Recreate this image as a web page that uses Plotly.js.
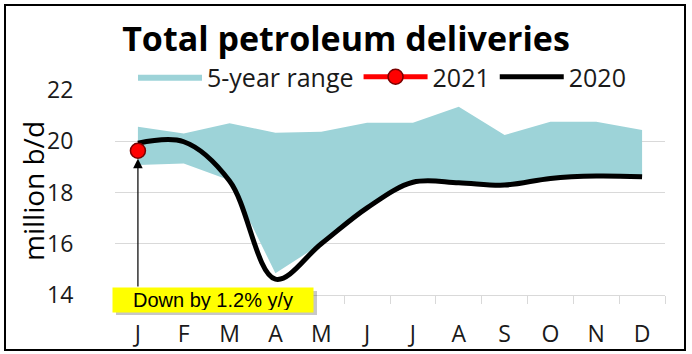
<!DOCTYPE html>
<html>
<head>
<meta charset="utf-8">
<script src="https://cdn.plot.ly/plotly-3.0.1.min.js"></script>
<style>
html,body{margin:0;padding:0;background:#fff;}
#chart{width:692px;height:354px;}
</style>
</head>
<body>
<div id="chart"></div>
<script>
// ---- data ----
const months = ['Jan','Feb','Mar','Apr','May','Jun','Jul','Aug','Sep','Oct','Nov','Dec'];
const monthLabels = ['J','F','M','A','M','J','J','A','S','O','N','D'];
const rangeHigh = [20.57, 20.30, 20.70, 20.33, 20.37, 20.72, 20.72, 21.35, 20.24, 20.76, 20.76, 20.44];
const rangeLow  = [19.07, 19.13, 18.48, 14.85, 16.00, 17.40, 18.40, 18.38, 18.29, 18.55, 18.64, 18.61];
const deliveries2020 = [19.92, 19.98, 18.45, 14.62, 16.00, 17.40, 18.40, 18.38, 18.29, 18.55, 18.64, 18.61];
const months2021 = ['Jan'];
const deliveries2021 = [19.63];
const yTicks = [14, 16, 18, 20, 22];

// month positions on the x axis (index of each category)
const xPos = months.map((m, i) => i);
const xPos2021 = months2021.map(m => months.indexOf(m));
const xBoundaries = [-0.5].concat(xPos.map(i => i + 0.5));

const FONT = '"Open Sans", Lato, sans-serif';
const teal = '#9dd3d8';

const traces = [
  {x: xPos, y: rangeLow, type: 'scatter', mode: 'lines', line: {width: 0, color: teal},
   showlegend: false, hoverinfo: 'skip'},
  {x: xPos, y: rangeHigh, type: 'scatter', mode: 'lines', fill: 'tonexty', fillcolor: teal,
   line: {width: 0, color: teal}, name: '5-year range', legendrank: 1},
  {x: xPos, y: deliveries2020, type: 'scatter', mode: 'lines',
   line: {color: '#000000', width: 5, shape: 'spline', smoothing: 1}, name: '2020', legendrank: 3},
  {x: xPos2021, y: deliveries2021, type: 'scatter', mode: 'lines+markers',
   line: {color: '#ff0000', width: 5},
   marker: {color: '#ff0000', size: 15, line: {color: '#7a0000', width: 1.5}},
   name: '2021', legendrank: 2}
];

const plotL = 115, plotR = 665, plotT = 90, plotB = 295;
const pw = plotR - plotL, ph = plotB - plotT;
const px = v => (v - plotL) / pw;
const py = v => (plotB - v) / ph;

const layout = {
  width: 692, height: 354,
  margin: {l: plotL, r: 692 - plotR, t: plotT, b: 354 - plotB},
  paper_bgcolor: '#ffffff', plot_bgcolor: '#ffffff',
  font: {family: FONT, color: '#1a1a1a'},
  title: {text: '<b>Total petroleum deliveries</b>', font: {size: 34, family: FONT, color: '#000'},
          x: 0.5, xanchor: 'center', xref: 'container', y: 1 - 39/354, yref: 'container', yanchor: 'middle'},
  showlegend: true,
  legend: {orientation: 'h', x: px(133), xanchor: 'left', y: py(77), yanchor: 'middle',
           font: {size: 25, family: FONT, color: '#1a1a1a'}, itemwidth: 64, traceorder: 'normal',
           bgcolor: 'rgba(0,0,0,0)'},
  xaxis: {range: [-0.5, 11.5], tickmode: 'array', tickvals: xPos, ticktext: monthLabels,
          ticks: 'outside', ticklen: 18, tickcolor: 'rgba(0,0,0,0)',
          minor: {tickmode: 'array', tickvals: xBoundaries, ticks: 'outside', ticklen: 8,
                  tickcolor: '#d9d9d9', tickwidth: 1, showgrid: false},
          showline: true, linecolor: '#d9d9d9', linewidth: 1, showgrid: false, zeroline: false,
          tickfont: {size: 23, family: FONT, color: '#1a1a1a'}, fixedrange: true},
  yaxis: {range: [14, 22], tickmode: 'array', tickvals: yTicks, showgrid: true,
          gridcolor: '#d9d9d9', gridwidth: 1, zeroline: false, showline: false,
          ticks: 'outside', ticklen: 36, tickcolor: 'rgba(0,0,0,0)',
          tickfont: {size: 23, family: FONT, color: '#1a1a1a'},
          fixedrange: true},
  shapes: [
    {type: 'rect', xref: 'paper', yref: 'paper', x0: px(116), x1: px(317), y0: py(315), y1: py(291),
     fillcolor: 'rgba(0,0,0,0.22)', line: {width: 0}, layer: 'above'},
    {type: 'rect', xref: 'paper', yref: 'paper', x0: px(5), x1: px(685), y0: py(350), y1: py(5),
     line: {color: '#000', width: 2}, fillcolor: 'rgba(0,0,0,0)', layer: 'above'}
  ],
  annotations: [
    {xref: 'paper', yref: 'paper', x: px(33), y: py(191), xanchor: 'center', yanchor: 'middle',
     text: 'million b/d', textangle: -90, showarrow: false,
     font: {size: 28, family: FONT, color: '#000'}},
    {x: xPos2021[0], y: deliveries2021[0], xref: 'x', yref: 'y', text: '', showarrow: true,
     ax: 0, ay: 288 - (plotB - (deliveries2021[0] - 14) / 8 * ph), axref: 'pixel', ayref: 'pixel',
     arrowhead: 2, arrowsize: 1.6, arrowwidth: 1.2, arrowcolor: '#000', standoff: 8},
    {xref: 'paper', yref: 'paper', x: px(213), y: py(300), xanchor: 'center', yanchor: 'middle',
     text: 'Down by 1.2% y/y', showarrow: false, bgcolor: '#ffff00', width: 196, height: 20,
     borderpad: 2, font: {size: 20, family: 'Liberation Sans, Arial, sans-serif', color: '#000'}}
  ]
};

Plotly.newPlot('chart', traces, layout, {displayModeBar: false, staticPlot: true});
</script>
</body>
</html>
